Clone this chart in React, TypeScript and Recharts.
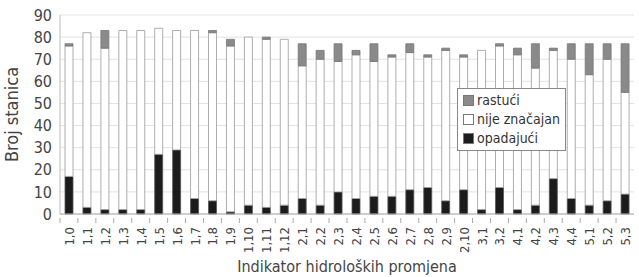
import { BarChart, Bar, XAxis, YAxis, CartesianGrid } from "recharts";

const categories = [
  "1,0", "1,1", "1,2", "1,3", "1,4", "1,5", "1,6", "1,7", "1,8", "1,9", "1,10", "1,11", "1,12",
  "2,1", "2,2", "2,3", "2,4", "2,5", "2,6", "2,7", "2,8", "2,9", "2,10",
  "3,1", "3,2", "4,1", "4,2", "4,3", "4,4", "5,1", "5,2", "5,3",
];
const opadajuci = [17, 3, 2, 2, 2, 27, 29, 7, 6, 1, 4, 3, 4, 7, 4, 10, 7, 8, 8, 11, 12, 6, 11, 2, 12, 2, 4, 16, 7, 4, 6, 9];
const nijeZnacajan = [59, 79, 73, 81, 81, 57, 54, 76, 76, 75, 76, 76, 75, 60, 66, 59, 65, 61, 63, 62, 59, 68, 60, 72, 64, 70, 62, 58, 63, 59, 64, 46];
const rastuci = [1, 0, 8, 0, 0, 0, 0, 0, 1, 3, 0, 1, 0, 10, 4, 8, 2, 8, 1, 4, 1, 1, 1, 0, 1, 3, 11, 1, 7, 14, 7, 22];
const yTicks = [0, 10, 20, 30, 40, 50, 60, 70, 80, 90];

const data = categories.map((c, i) => ({
  name: c,
  opadajuci: opadajuci[i],
  nije: nijeZnacajan[i],
  rastuci: rastuci[i],
}));

const FONT = "'Liberation Sans Narrow', 'DejaVu Sans Condensed', 'Open Sans', sans-serif";

const legendItems = [
  { label: "rastući", fill: "#8a8a8a" },
  { label: "nije značajan", fill: "#ffffff" },
  { label: "opadajući", fill: "#1c1c1c" },
];

const LegendBox = () => (
  <div
    style={{
      position: "absolute",
      left: 457,
      top: 88,
      border: "1.5px solid #888",
      background: "#fff",
      padding: "2px 5px",
      fontFamily: FONT,
      fontSize: 14,
      color: "#333",
      lineHeight: "19px",
    }}
  >
    {legendItems.map((it) => (
      <div key={it.label} style={{ display: "flex", alignItems: "center" }}>
        <span
          style={{
            display: "inline-block",
            width: 9,
            height: 9,
            background: it.fill,
            border: "1px solid #777",
            marginRight: 3,
          }}
        />
        {it.label}
      </div>
    ))}
  </div>
);

const XTick = (props: any) => {
  const { x, y, payload } = props;
  return (
    <g>
      <line x1={x - 9} x2={x - 9} y1={y - 4} y2={y + 1} stroke="#aaa" />
      <text
        x={x + 5}
        y={y + 5}
        transform={`rotate(-90, ${x + 5}, ${y + 5})`}
        textAnchor="end"
        fontSize={13}
        fontFamily={FONT}
        fill="#444"
      >
        {payload.value}
      </text>
    </g>
  );
};

export default function App() {
  return (
    <div style={{ position: "absolute", left: 0, top: 0, width: 639, height: 277, background: "#fff" }}>
      <BarChart
        width={639}
        height={277}
        data={data}
        margin={{ top: 15, right: 5, left: 0, bottom: 0 }}
        barSize={8}
      >
        <CartesianGrid vertical={false} stroke="#e2e2e2" yAxisId="left" />
        <XAxis
          dataKey="name"
          interval={0}
          height={63}
          tick={<XTick />}
          tickLine={false}
          axisLine={{ stroke: "#aaa" }}
          label={{
            value: "Indikator hidroloških promjena",
            position: "insideBottom",
            offset: 5,
            fontSize: 16,
            fontFamily: FONT,
            fill: "#444",
          }}
        />
        <YAxis
          yAxisId="left"
          domain={[0, 90]}
          ticks={yTicks}
          interval={0}
          width={60}
          tickLine={false}
          axisLine={{ stroke: "#bbb" }}
          tick={{ fontSize: 16, fontFamily: FONT, fill: "#444" }}
          label={{
            value: "Broj stanica",
            angle: -90,
            position: "insideLeft",
            offset: 12,
            style: { textAnchor: "middle" },
            fontSize: 18,
            fontFamily: FONT,
            fill: "#444",
          }}
        />
        <YAxis
          yAxisId="right"
          orientation="right"
          domain={[0, 90]}
          width={0}
          tick={false}
          tickLine={false}
          axisLine={{ stroke: "#bbb" }}
        />
        <Bar yAxisId="left" dataKey="opadajuci" stackId="a" fill="#1c1c1c" stroke="#555" strokeWidth={0.8} isAnimationActive={false} />
        <Bar yAxisId="left" dataKey="nije" stackId="a" fill="#ffffff" stroke="#999" strokeWidth={0.8} isAnimationActive={false} />
        <Bar yAxisId="left" dataKey="rastuci" stackId="a" fill="#8a8a8a" stroke="#777" strokeWidth={0.8} isAnimationActive={false} />
      </BarChart>
      <LegendBox />
    </div>
  );
}
